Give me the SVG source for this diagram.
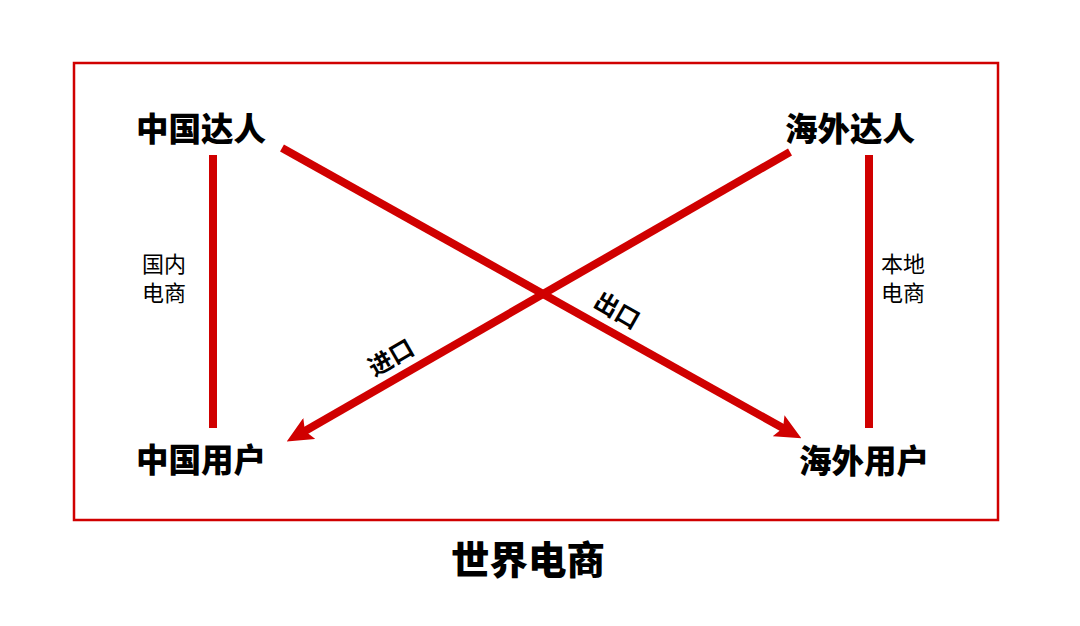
<svg xmlns="http://www.w3.org/2000/svg" width="1080" height="626" viewBox="0 0 1080 626">
<style>
.node{font-family:"Noto Sans CJK SC","Noto Sans",sans-serif;font-weight:900;font-size:32.5px;fill:#000;text-anchor:middle;dominant-baseline:central}
.title{font-family:"Noto Sans CJK SC","Noto Sans",sans-serif;font-weight:900;font-size:38.5px;fill:#000;text-anchor:middle;dominant-baseline:central}
.lbl{font-family:"Noto Sans CJK SC","Noto Sans",sans-serif;font-weight:400;font-size:22px;fill:#000}
.edge{font-family:"Noto Sans CJK SC","Noto Sans",sans-serif;font-weight:700;font-size:24px;fill:#000;text-anchor:middle;dominant-baseline:central}
.ln{stroke:#d00000;stroke-width:8;fill:none}
</style>
<defs>
<marker id="ah" viewBox="0 0 26 24" refX="13" refY="12" markerWidth="26" markerHeight="24" markerUnits="userSpaceOnUse" orient="auto">
<path d="M0,0 L26,12 L0,24 L5,12 Z" fill="#d00000"/>
</marker>
</defs>
<rect x="74" y="63" width="924" height="457" fill="none" stroke="#d00000" stroke-width="2.5"/>
<g id="connectors">
<line class="ln" x1="213" y1="155" x2="213" y2="428"/>
<line class="ln" x1="869" y1="155" x2="869" y2="428"/>
<line class="ln" x1="282" y1="148" x2="790" y2="432" marker-end="url(#ah)"/>
<line class="ln" x1="790" y1="152" x2="298" y2="435" marker-end="url(#ah)"/>
<text class="lbl" x="142" y="272">国内</text>
<text class="lbl" x="142" y="301">电商</text>
<text class="lbl" x="881" y="272">本地</text>
<text class="lbl" x="881" y="301">电商</text>
<text class="edge" transform="translate(618,309) rotate(30)">出口</text>
<text class="edge" transform="translate(390,356) rotate(-30)">进口</text>
</g>
<g id="cn-talent"><text class="node" x="201" y="126">中国达人</text></g>
<g id="os-talent"><text class="node" x="850" y="126">海外达人</text></g>
<g id="cn-user"><text class="node" x="201" y="457">中国用户</text></g>
<g id="os-user"><text class="node" x="864" y="458">海外用户</text></g>
<g id="title"><text class="title" x="528" y="557">世界电商</text></g>
</svg>
